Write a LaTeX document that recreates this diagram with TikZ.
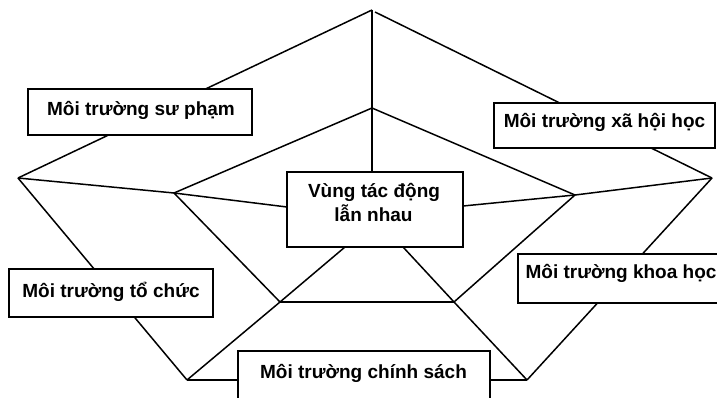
\documentclass[tikz,border=0pt]{standalone}
\usepackage{fontspec}
\setmainfont{Liberation Sans}
\begin{document}
\begin{tikzpicture}[x=1pt,y=-1pt,
  edge/.style={line width=1.5pt, line join=miter},
  envbox/.style={draw, line width=1.6pt, fill=white, inner sep=0pt, rectangle},
  lbl/.style={anchor=base, inner sep=0pt, font=\fontsize{19}{24}\selectfont\bfseries}]
\useasboundingbox (0,0) rectangle (717,398);
% vertices
\coordinate (OT) at (372,10);
\coordinate (OTr) at (375,12);
\coordinate (IT) at (372,108);
\coordinate (OL) at (18,178);
\coordinate (IL) at (174,193);
\coordinate (OR) at (712,178);
\coordinate (IR) at (575,195);
\coordinate (IBL) at (280,302);
\coordinate (IBR) at (454,302);
\coordinate (OBL) at (187,380);
\coordinate (OBR) at (527,380);
% contact points on the central box
\coordinate (cT) at (372,172);
\coordinate (cL) at (287,207);
\coordinate (cR) at (463,206);
\coordinate (cBL) at (345,247);
\coordinate (cBR) at (403,247);
% connectors
\draw[edge] (OL) -- (OT);
\draw[edge] (OTr) -- (OR);
\draw[edge] (OT) -- (IT) -- (cT);
\draw[edge] (IL) -- (IT) -- (IR);
\draw[edge] (OL) -- (IL) -- (cL);
\draw[edge] (OR) -- (IR) -- (cR);
\draw[edge] (OL) -- (OBL);
\draw[edge] (OR) -- (OBR);
\draw[edge] (IL) -- (IBL);
\draw[edge] (IR) -- (IBR);
\draw[edge] (IBL) -- (IBR);
\draw[edge] (OBL) -- (IBL) -- (cBL);
\draw[edge] (OBR) -- (IBR) -- (cBR);
\draw[edge] (OBL) -- (OBR);
% boxes
\node[envbox, minimum width=224pt, minimum height=46pt] (sp) at (140,112) {};
\node[envbox, minimum width=221pt, minimum height=45pt] (xh) at (604.5,125.5) {};
\node[envbox, minimum width=204pt, minimum height=48pt] (tc) at (111,293) {};
\node[envbox, minimum width=222pt, minimum height=49pt] (kh) at (629,278.5) {};
\node[envbox, minimum width=252pt, minimum height=69pt] (cs) at (364,385.5) {};
\node[envbox, minimum width=176pt, minimum height=75pt] (c) at (375,209.5) {};
% labels
\node[lbl] (tsp) at (141,115.7) {Môi trường sư phạm};
\node[lbl] (txh) at (604.5,128) {Môi trường xã hội học};
\node[lbl] (ttc) at (111,297.3) {Môi trường tổ chức};
\node[lbl] (tkh) at (621,278.3) {Môi trường khoa học};
\node[lbl] (tcs) at (363.5,378) {Môi trường chính sách};
\node[lbl] (tc1) at (374,197) {Vùng tác động};
\node[lbl] (tc2) at (373.5,222) {lẫn nhau};
\end{tikzpicture}
\end{document}
